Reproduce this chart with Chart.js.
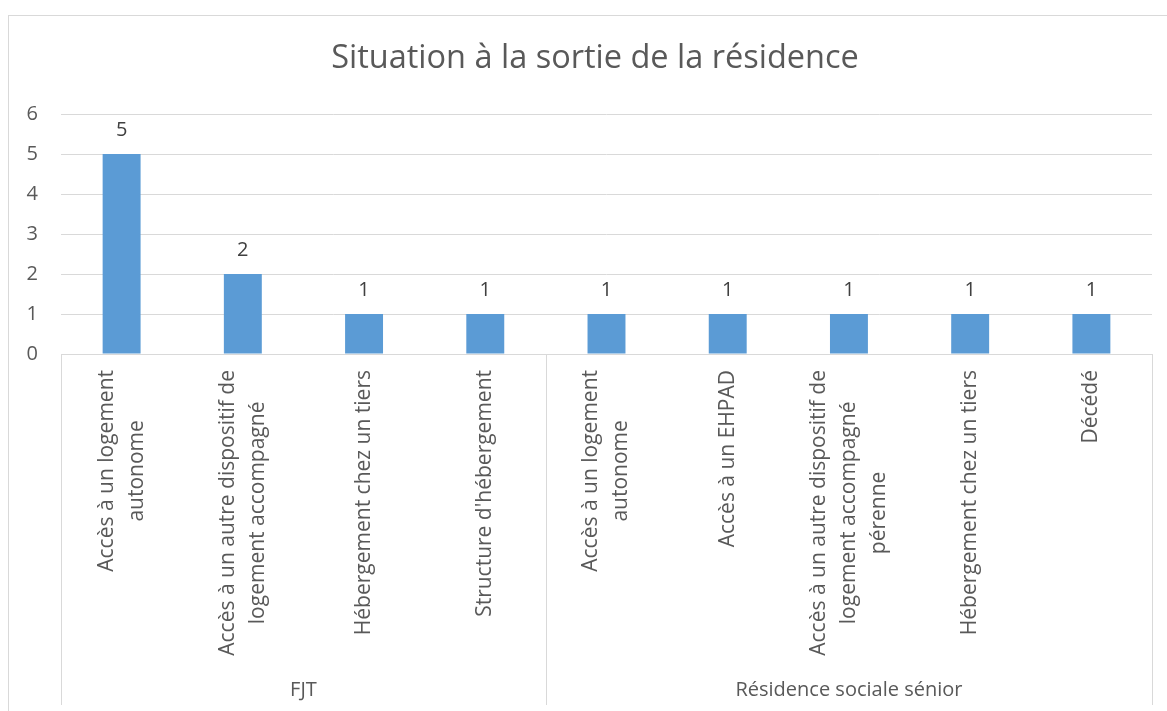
<!DOCTYPE html>
<html>
<head>
<meta charset="utf-8">
<script src="https://cdn.jsdelivr.net/npm/chart.js@4/dist/chart.umd.min.js"></script>
<style>
  body { margin: 0; background: #fff; }
</style>
</head>
<body>
<canvas id="chart" width="1167" height="711"></canvas>
<script>
var title = 'Situation à la sortie de la résidence';
var categories = [
  ['Accès à un logement', 'autonome'],
  ['Accès à un autre dispositif de', 'logement accompagné'],
  ['Hébergement chez un tiers'],
  ["Structure d'hébergement"],
  ['Accès à un logement', 'autonome'],
  ['Accès à un EHPAD'],
  ['Accès à un autre dispositif de', 'logement accompagné', 'pérenne'],
  ['Hébergement chez un tiers'],
  ['Décédé']
];
var groups = ['FJT', 'Résidence sociale sénior'];
var groupSizes = [4, 5];
var values = [5, 2, 1, 1, 1, 1, 1, 1, 1];
var yTicks = [0, 1, 2, 3, 4, 5, 6];

var textColor = '#595959';
var lineColor = '#d9d9d9';
var font = '"Open Sans", "Noto Sans", sans-serif';

// outer frame of the chart object and the title
var framePlugin = {
  id: 'frame',
  beforeDraw: function (chart) {
    var ctx = chart.ctx;
    ctx.save();
    ctx.strokeStyle = lineColor;
    ctx.lineWidth = 1;
    ctx.strokeRect(8.5, 15.5, 2000, 2000);
    ctx.font = '32.5px ' + font;
    ctx.fillStyle = textColor;
    ctx.textAlign = 'center';
    ctx.textBaseline = 'middle';
    ctx.fillText(title, 595, 59);
    ctx.restore();
  }
};

// value labels, rotated category labels and the group row
var labelsPlugin = {
  id: 'labels',
  afterDraw: function (chart) {
    var ctx = chart.ctx;
    var xs = chart.scales.x;
    var area = chart.chartArea;
    var meta = chart.getDatasetMeta(0);
    ctx.save();
    ctx.textAlign = 'center';
    ctx.textBaseline = 'middle';

    ctx.font = '20px ' + font;
    ctx.fillStyle = '#404040';
    meta.data.forEach(function (bar, i) {
      ctx.fillText(String(values[i]), bar.x, bar.y - 24);
    });

    ctx.font = '21px ' + font;
    ctx.fillStyle = textColor;
    categories.forEach(function (lines, i) {
      var px = xs.getPixelForValue(i);
      var maxW = 0;
      lines.forEach(function (l) { maxW = Math.max(maxW, ctx.measureText(l).width); });
      var cy = area.bottom + 16 + maxW / 2;
      lines.forEach(function (line, j) {
        var cx = px + (j - (lines.length - 1) / 2) * 30;
        ctx.save();
        ctx.translate(cx, cy);
        ctx.rotate(-Math.PI / 2);
        ctx.fillText(line, 0, 0);
        ctx.restore();
      });
    });

    ctx.font = '20px ' + font;
    var half = (xs.getPixelForValue(1) - xs.getPixelForValue(0)) / 2;
    var start = 0;
    ctx.strokeStyle = lineColor;
    ctx.lineWidth = 1;
    var edges = [xs.getPixelForValue(0) - half];
    groups.forEach(function (g, k) {
      var left = xs.getPixelForValue(start) - half;
      var right = xs.getPixelForValue(start + groupSizes[k] - 1) + half;
      edges.push(right);
      ctx.fillText(g, (left + right) / 2, 690);
      start += groupSizes[k];
    });
    edges.forEach(function (e) {
      var x = Math.round(e) + 0.5;
      ctx.beginPath();
      ctx.moveTo(x, area.bottom);
      ctx.lineTo(x, 705);
      ctx.stroke();
    });

    ctx.restore();
  }
};

new Chart(document.getElementById('chart'), {
  type: 'bar',
  data: {
    labels: categories.map(function (c) { return c.join(' '); }),
    datasets: [{
      data: values,
      backgroundColor: '#5b9bd5',
      borderWidth: 0,
      categoryPercentage: 1,
      barPercentage: 0.313
    }]
  },
  options: {
    responsive: false,
    animation: false,
    layout: { padding: { left: 0, right: 15, top: 114, bottom: 0 } },
    plugins: {
      legend: { display: false },
      tooltip: { enabled: false },
      title: { display: false }
    },
    scales: {
      x: {
        grid: { display: false },
        border: { display: true, color: lineColor },
        ticks: { display: false },
        afterFit: function (s) { s.height = 357; }
      },
      y: {
        min: 0,
        max: 6,
        afterBuildTicks: function (s) {
          s.ticks = yTicks.map(function (v) { return { value: v }; });
        },
        afterFit: function (s) { s.width = 61; },
        grid: { color: lineColor, drawTicks: false },
        border: { display: false },
        ticks: {
          color: textColor,
          padding: 23,
          font: { family: font, size: 20 }
        }
      }
    }
  },
  plugins: [framePlugin, labelsPlugin]
});
</script>
</body>
</html>
